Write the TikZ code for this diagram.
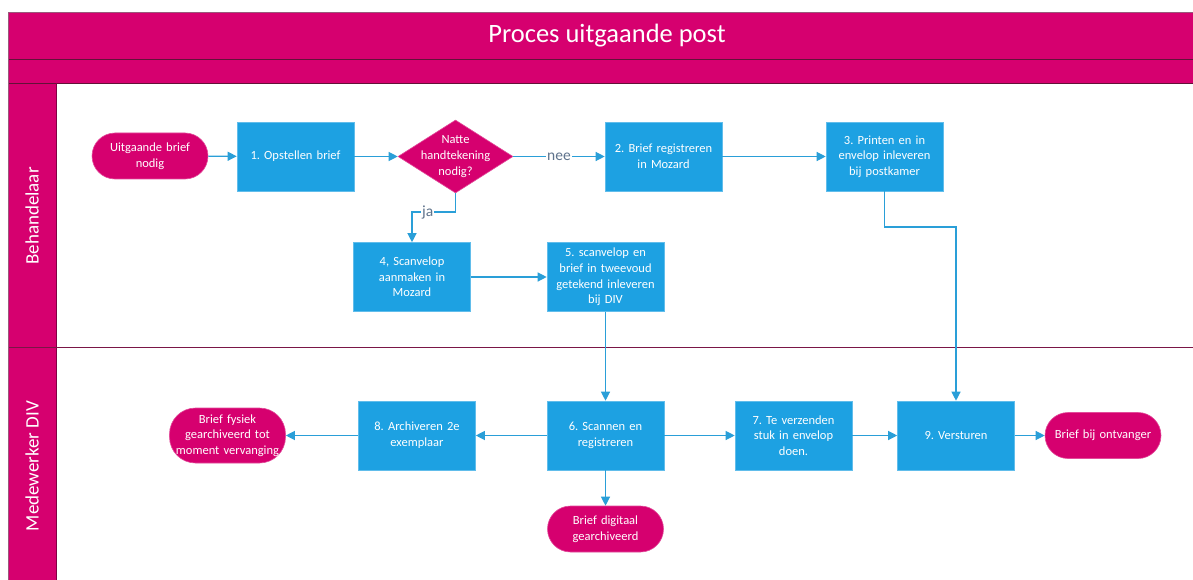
\documentclass[tikz,border=0pt]{standalone}
\usepackage{fontspec}
\setmainfont{Carlito}
\frenchspacing
\usetikzlibrary{arrows.meta,shapes.geometric,positioning}
\definecolor{mag}{RGB}{214,0,111}
\definecolor{boxblue}{RGB}{29,161,226}
\definecolor{lineblue}{RGB}{42,159,216}
\definecolor{maroon}{RGB}{122,22,70}
\definecolor{lbl}{RGB}{95,115,140}
\tikzset{
  txt/.style={text=white, font=\fontsize{12.5}{15.7}\selectfont},
  procbox/.style={rectangle, fill=boxblue, draw=boxblue!70!white, line width=0.6pt, minimum width=117pt, minimum height=69pt, text width=112pt, align=center, txt, inner sep=1pt},
  term/.style={rectangle, rounded corners=23pt, fill=mag, draw=mag!70!white, line width=0.6pt, minimum width=116pt, minimum height=46pt, text width=116pt, align=center, txt, inner sep=0pt},
  decision/.style={diamond, aspect=1.58, fill=mag, draw=mag!70!white, line width=0.6pt, minimum width=115pt, minimum height=73pt, inner sep=0pt},
  conn/.style={draw=lineblue, line width=1.2pt, -{Triangle[length=9pt,width=9pt]}},
  edgelbl/.style={fill=white, text=lbl, font=\fontsize{15.5}{16}\selectfont, inner sep=1pt},
  lanelbl/.style={rotate=90, text=white, font=\fontsize{19}{21}\selectfont},
}
\begin{document}
\begin{tikzpicture}[x=1pt,y=-1pt]
\useasboundingbox (0,0) rectangle (1193,580);
% frame
\fill[white] (0,0) rectangle (1193,580);
\fill[mag] (8,12) rectangle (1195,83);
\fill[mag] (8,83) rectangle (56,582);
\draw[maroon!80!black, line width=0.8pt] (8,59) -- (1195,59);
\draw[maroon!80!black, line width=0.6pt] (8,83) -- (1195,83);
\draw[mag!60!black, line width=0.6pt] (56,83) -- (56,582);
\draw[maroon, line width=1pt] (8,347) -- (1195,347);
\draw[gray!70!mag, line width=0.8pt] (8,582) -- (8,12) -- (1195,12);
\node[text=white, font=\fontsize{26.5}{28}\selectfont] (title) at (607,36) {Proces uitgaande post};
\node[lanelbl] (lane1) at (32,216) {Behandelaar};
\node[lanelbl] (lane2) at (32,466) {Medewerker DIV};
% nodes
\node[term] (start) at (150,156) {Uitgaande brief\\nodig};
\node[procbox] (b1) at (295.5,156.5) {1. Opstellen brief};
\node[decision, label={[align=center, txt]center:Natte\\handtekening\\nodig?}] (dec) at (455.5,156.5) {};
\node[procbox] (b2) at (663.5,156.5) {2. Brief registreren\\in Mozard};
\node[procbox] (b3) at (884.5,156.5) {3. Printen en in\\envelop inleveren\\bij postkamer};
\node[procbox] (b4) at (412,277) {4, Scanvelop\\aanmaken in\\Mozard};
\node[procbox] (b5) at (605.5,277) {5. scanvelop en\\brief in tweevoud\\getekend inleveren\\bij DIV};
\node[procbox] (b6) at (605.5,435.5) {6. Scannen en\\registreren};
\node[procbox] (b7) at (793.5,435.5) {7. Te verzenden\\stuk in envelop\\doen.};
\node[procbox] (b8) at (417,435.5) {8. Archiveren 2e\\exemplaar};
\node[procbox] (b9) at (956,435.5) {9. Versturen};
\node[term] (endr) at (1103,435.5) {Brief bij ontvanger};
\node[term, minimum height=55pt, rounded corners=26pt] (endl) at (227.5,435.5) {Brief fysiek\\gearchiveerd tot\\moment vervanging};
\node[term] (endd) at (605.5,529) {Brief digitaal\\gearchiveerd};
\coordinate (jaturn) at (455.5,212);
\coordinate (b3turn) at (884.5,227);
% connectors
\draw[conn] (start) -- (b1);
\draw[conn] (b1) -- (dec);
\draw[conn] (dec) -- node[edgelbl, pos=0.5] {nee} (b2);
\draw[conn] (b2) -- (b3);
\draw[conn] (dec.south) -- (jaturn) -| node[edgelbl, pos=0.32] {ja} (b4.north);
\draw[conn] (b4) -- (b5);
\draw[conn] (b5) -- (b6);
\draw[conn] (b3.south) -- (b3turn) -| (b9.north);
\draw[conn] (b6) -- (b8);
\draw[conn] (b6) -- (b7);
\draw[conn] (b7) -- (b9);
\draw[conn] (b9) -- (endr);
\draw[conn] (b8) -- (endl);
\draw[conn] (b6) -- (endd);
\end{tikzpicture}
\end{document}
